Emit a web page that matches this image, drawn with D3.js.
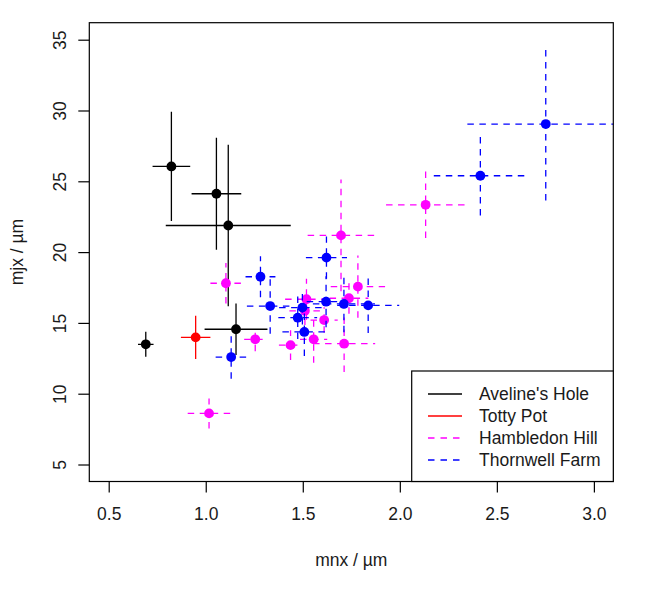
<!DOCTYPE html>
<html>
<head>
<meta charset="utf-8">
<script src="https://cdn.jsdelivr.net/npm/d3@7"></script>
<style>
  html, body { margin: 0; padding: 0; background: #fff; }
  svg { display: block; font-family: "Liberation Sans", Arial, sans-serif; }
</style>
</head>
<body>
<svg id="chart" width="666" height="600"></svg>
<script>
// ---- data ----
const xTicks = [0.5, 1.0, 1.5, 2.0, 2.5, 3.0];
const yTicks = [5, 10, 15, 20, 25, 30, 35];
const xLabel = "mnx / µm";
const yLabel = "mjx / µm";

const groupNames  = ["Aveline's Hole", "Totty Pot", "Hambledon Hill", "Thornwell Farm"];
const groupColors = ["#000000", "#ff0000", "#ff00ff", "#0000ff"];
const groupDashed = [false, false, true, true];

// Aveline's Hole
const avelineX    = [0.823, 1.055, 1.116, 1.156, 0.691];
const avelineY    = [26.05, 24.12, 21.88, 14.55, 13.49];
const avelineXErr = [0.097, 0.128, 0.322, 0.162, 0.040];
const avelineYErr = [3.86, 3.95, 5.70, 1.82, 0.88];

// Totty Pot
const tottyX    = [0.948];
const tottyY    = [13.98];
const tottyXErr = [0.076];
const tottyYErr = [1.53];

// Hambledon Hill
const hambX    = [1.017, 1.104, 1.255, 1.437, 1.556, 1.713, 1.697, 2.133, 1.784, 1.738, 1.610, 1.519, 1.511];
const hambY    = [8.61, 17.80, 13.84, 13.43, 13.84, 13.53, 21.18, 23.34, 17.56, 16.74, 15.20, 16.67, 15.85];
const hambXErr = [0.110, 0.080, 0.057, 0.060, 0.070, 0.160, 0.172, 0.204, 0.140, 0.100, 0.070, 0.110, 0.080];
const hambYErr = [1.06, 1.43, 0.85, 1.05, 1.65, 2.00, 3.95, 2.35, 2.20, 1.10, 0.90, 1.45, 1.00];

// Thornwell Farm
const thornX    = [2.752, 2.415, 1.622, 1.282, 1.332, 1.498, 1.474, 1.508, 1.620, 1.712, 1.837, 1.131];
const thornY    = [29.04, 25.39, 19.61, 18.26, 16.19, 16.08, 15.37, 14.36, 16.50, 16.34, 16.24, 12.59];
const thornXErr = [0.404, 0.240, 0.106, 0.077, 0.120, 0.120, 0.100, 0.113, 0.100, 0.160, 0.160, 0.080];
const thornYErr = [5.40, 2.80, 1.50, 1.45, 1.95, 1.20, 1.50, 1.70, 1.80, 2.00, 1.95, 1.53];

// ---- build groups from the arrays ----
const seriesX    = [avelineX, tottyX, hambX, thornX];
const seriesY    = [avelineY, tottyY, hambY, thornY];
const seriesXErr = [avelineXErr, tottyXErr, hambXErr, thornXErr];
const seriesYErr = [avelineYErr, tottyYErr, hambYErr, thornYErr];
const groups = groupNames.map((name, g) => ({
  name, color: groupColors[g], dashed: groupDashed[g],
  pts: seriesX[g].map((x, i) => ({ x, y: seriesY[g][i], xe: seriesXErr[g][i], ye: seriesYErr[g][i] }))
}));

// ---- layout ----
const FS = 17.5;
const textColor = "#1a1a1a";
const plot = { left: 89.3, right: 613.3, top: 22.7, bottom: 481.5 };
const svg = d3.select("#chart");

const x = d3.scaleLinear().domain([0.4, 3.1]).range([plot.left, plot.right]);
const y = d3.scaleLinear().domain([3.8, 36.2]).range([plot.bottom, plot.top]);

svg.append("defs").append("clipPath").attr("id", "plotclip")
  .append("rect")
  .attr("x", plot.left).attr("y", plot.top)
  .attr("width", plot.right - plot.left).attr("height", plot.bottom - plot.top);

const dash = "6.5,5.5";
const content = svg.append("g").attr("clip-path", "url(#plotclip)");

groups.forEach(g => {
  const gg = content.append("g");
  gg.selectAll("line.h").data(g.pts).enter().append("line")
    .attr("x1", d => x(d.x - d.xe)).attr("x2", d => x(d.x + d.xe))
    .attr("y1", d => y(d.y)).attr("y2", d => y(d.y))
    .attr("stroke", g.color).attr("stroke-width", 1.3)
    .attr("stroke-dasharray", g.dashed ? dash : null);
  gg.selectAll("line.v").data(g.pts).enter().append("line")
    .attr("x1", d => x(d.x)).attr("x2", d => x(d.x))
    .attr("y1", d => y(d.y - d.ye)).attr("y2", d => y(d.y + d.ye))
    .attr("stroke", g.color).attr("stroke-width", 1.3)
    .attr("stroke-dasharray", g.dashed ? dash : null);
  gg.selectAll("circle").data(g.pts).enter().append("circle")
    .attr("cx", d => x(d.x)).attr("cy", d => y(d.y)).attr("r", 4.9)
    .attr("fill", g.color);
});

// ---- box ----
svg.append("rect")
  .attr("x", plot.left).attr("y", plot.top)
  .attr("width", plot.right - plot.left).attr("height", plot.bottom - plot.top)
  .attr("fill", "none").attr("stroke", "#000").attr("stroke-width", 1.2);

// ---- axes ----
const xAxis = svg.append("g").attr("transform", `translate(0,${plot.bottom})`)
  .call(d3.axisBottom(x).tickValues(xTicks).tickFormat(d3.format(".1f"))
    .tickSize(11).tickSizeOuter(0).tickPadding(15));
xAxis.select(".domain").remove();
xAxis.selectAll("line").attr("stroke", "#000").attr("stroke-width", 1.2);
xAxis.selectAll("text").attr("font-size", FS).attr("fill", textColor)
  .attr("font-family", "'Liberation Sans', Arial, sans-serif");

const yAxis = svg.append("g").attr("transform", `translate(${plot.left},0)`)
  .call(d3.axisLeft(y).tickValues(yTicks).tickFormat(d3.format("d"))
    .tickSize(11).tickSizeOuter(0));
yAxis.select(".domain").remove();
yAxis.selectAll("line").attr("stroke", "#000").attr("stroke-width", 1.2);
yAxis.selectAll("text")
  .attr("x", 0).attr("y", 0).attr("dy", null)
  .attr("text-anchor", "middle")
  .attr("font-size", FS).attr("fill", textColor)
  .attr("font-family", "'Liberation Sans', Arial, sans-serif")
  .attr("transform", `translate(${66 - plot.left},0) rotate(-90)`);

// ---- axis titles ----
svg.append("text")
  .attr("x", (plot.left + plot.right) / 2).attr("y", 566)
  .attr("text-anchor", "middle").attr("font-size", FS).attr("fill", textColor)
  .text(xLabel);
svg.append("text")
  .attr("transform", `translate(23,${(plot.top + plot.bottom) / 2}) rotate(-90)`)
  .attr("text-anchor", "middle").attr("font-size", FS).attr("fill", textColor)
  .text(yLabel);

// ---- legend ----
const lg = svg.append("g");
lg.append("rect")
  .attr("x", 411.7).attr("y", 371)
  .attr("width", plot.right - 411.7).attr("height", plot.bottom - 371)
  .attr("fill", "#fff").attr("stroke", "#000").attr("stroke-width", 1.2);
const rowY = d3.scalePoint().domain(groupNames).range([394, 460]);
groups.forEach(g => {
  const ry = rowY(g.name);
  lg.append("line")
    .attr("x1", 428).attr("x2", 462).attr("y1", ry).attr("y2", ry)
    .attr("stroke", g.color).attr("stroke-width", 1.3)
    .attr("stroke-dasharray", g.dashed ? "6.5,6" : null);
  lg.append("text")
    .attr("x", 479).attr("y", ry).attr("dy", "0.36em")
    .attr("font-size", FS).attr("fill", textColor)
    .text(g.name);
});
</script>
</body>
</html>
